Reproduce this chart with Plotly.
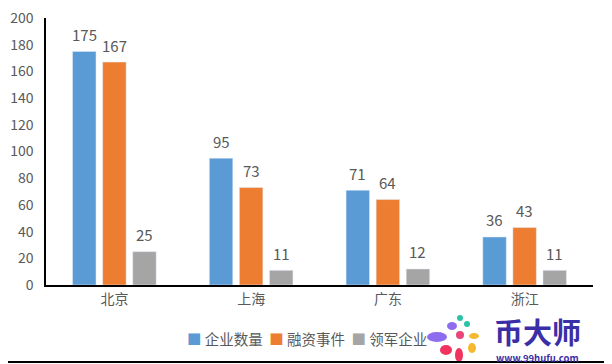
import plotly.graph_objects as go

categories = ["北京", "上海", "广东", "浙江"]
series_names = ["企业数量", "融资事件", "领军企业"]
qiye = [175, 95, 71, 36]
rongzi = [167, 73, 64, 43]
lingjun = [25, 11, 12, 11]
colors = ["#5B9BD5", "#ED7D31", "#A5A5A5"]
y_ticks = [0, 20, 40, 60, 80, 100, 120, 140, 160, 180, 200]

FONT = "Microsoft YaHei, Noto Sans CJK SC, sans-serif"
TXT = "#595959"

OFF = 8  # page body margin
PAGE_W, PAGE_H = 612, 364
W, H = PAGE_W - OFF, PAGE_H - OFF
# plot area in page pixels
PL, PR, PT, PB = 46, 593, 18, 285
L, R, T, B = PL - OFF, W - (PR - OFF), PT - OFF, H - (PB - OFF)
PW, PH = PR - PL, PB - PT


def px(xp):
    return (xp - PL) / PW


def py(yp):
    return (PB - yp) / PH


fig = go.Figure()
shifts = [-30, 0, 30]
for name, vals, c, sh in zip(series_names, [qiye, rongzi, lingjun], colors, shifts):
    fig.add_trace(go.Bar(x=categories, y=vals, name=name, marker_color=c, showlegend=False))
    for cat, v in zip(categories, vals):
        fig.add_annotation(x=cat, y=v, text=str(v), showarrow=False, xshift=sh, yshift=17,
                           font=dict(size=15, color=TXT, family=FONT))

fig.update_layout(
    width=W, height=H,
    margin=dict(l=L, r=R, t=T, b=B),
    paper_bgcolor="white", plot_bgcolor="white",
    barmode="group", bargap=0.34, bargroupgap=0.22,
    font=dict(family=FONT, size=14, color=TXT),
    showlegend=False,
    xaxis=dict(showline=True, linecolor="black", linewidth=1.5, ticks="", automargin=False,
               tickfont=dict(size=14, color=TXT), showgrid=False),
    yaxis=dict(range=[0, 200], tickvals=y_ticks, showline=True, linecolor="black",
               linewidth=1.5, ticks="", showgrid=False, zeroline=False, automargin=False,
               ticklabeloverflow="allow",
               tickfont=dict(size=14, color=TXT), ticklabelstandoff=8),
)

# legend (drawn as text)
sq = "<span style='color:{c}'>■</span>"
legend_text = "  ".join(sq.format(c=c) + " " + n for c, n in zip(colors, series_names))
fig.add_annotation(xref="paper", yref="paper", x=px(307), y=py(338), xanchor="center", yanchor="middle",
                   text=legend_text, showarrow=False, font=dict(size=14.5, color=TXT, family=FONT))

# watermark
fig.add_annotation(xref="paper", yref="paper", x=px(537), y=py(331), xanchor="center", yanchor="middle",
                   text="<b>币大师</b>", showarrow=False,
                   font=dict(size=29, color="#3B2FA8", family=FONT))
fig.add_annotation(xref="paper", yref="paper", x=px(537), y=py(357.5), xanchor="center", yanchor="middle",
                   text="<b>www.99hufu.com</b>", showarrow=False,
                   font=dict(size=9.5, color="#3B2FA8", family=FONT))
petals = [("#8E6CF0", 437, 337, 10, 5), ("#8E6CF0", 452, 326, 5, 4), ("#2BC2A8", 460, 318, 3, 3),
          ("#2BC2A8", 467, 324, 3, 3), ("#F5B82E", 474, 336, 5, 3), ("#F5B82E", 472, 348, 4, 5),
          ("#F0345F", 446, 350, 6, 5), ("#F0345F", 459, 355, 4, 7), ("#E8457A", 460, 335, 4, 4)]
for col, cx, cy, rx, ry in petals:
    fig.add_shape(type="circle", xref="paper", yref="paper",
                  x0=px(cx - rx), x1=px(cx + rx), y0=py(cy + ry), y1=py(cy - ry),
                  fillcolor=col, line=dict(width=0))
fig.add_shape(type="line", xref="paper", yref="paper", x0=px(OFF), x1=px(PAGE_W),
              y0=py(362), y1=py(362), line=dict(color="black", width=2))

fig.write_html("out.html")
